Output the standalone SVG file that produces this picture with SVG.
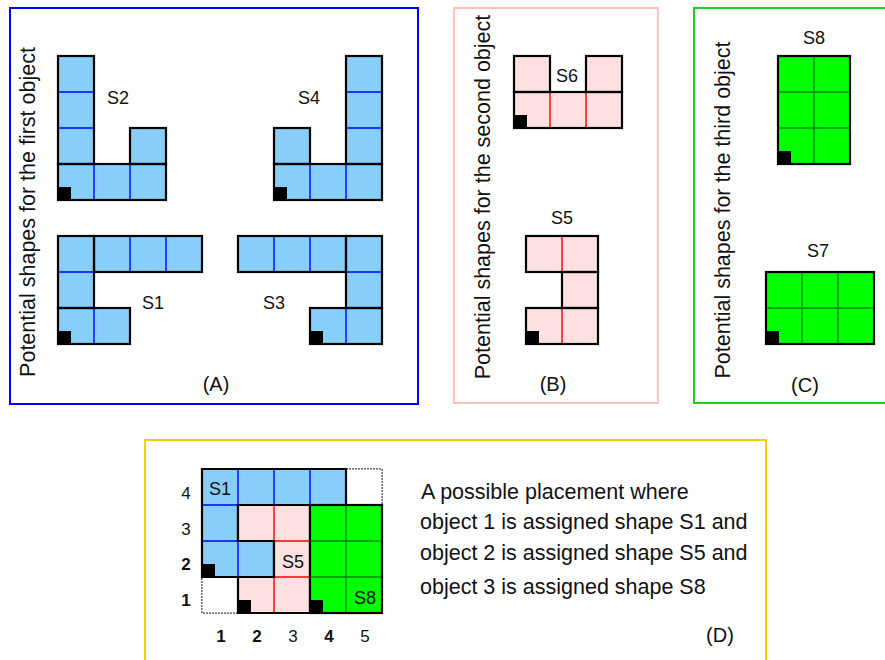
<svg xmlns="http://www.w3.org/2000/svg" width="885" height="660" viewBox="0 0 885 660">
<style>
text{font-family:"Liberation Sans",Arial,Helvetica,sans-serif;fill:#111}
.lbl{font-size:18px;text-anchor:middle}
.pl{font-size:20px;text-anchor:middle}
.vt{font-size:21.5px;text-anchor:middle}
.para{font-size:21.5px}
.ax{font-size:17px;text-anchor:middle}
.b{font-weight:bold}
.bl{fill:#87cefa}
.pk{fill:#ffe0e0}
.gr{fill:#00ff00}
.ol{fill:none;stroke:#000;stroke-width:2.2;stroke-linejoin:miter}
.ib{stroke:#0000ff;stroke-width:1.4}
.ir{stroke:#ff0000;stroke-width:1.4}
.ig{stroke:#008a00;stroke-width:1.4}
.mk{fill:#000}
.thin{fill:#fff;stroke:#444;stroke-width:1;stroke-dasharray:2 1}
</style>

<g id="panelA">
<rect x="10" y="8" width="408" height="396" fill="#fff" stroke="#0000ff" stroke-width="2"/>
<text class="vt" transform="translate(35,212) rotate(-90)">Potential shapes for the first object</text>
<text class="pl" x="216" y="391">(A)</text>
</g>
<g id="panelB">
<rect x="454" y="8" width="204" height="395" fill="#fff" stroke="#ffc0c0" stroke-width="2"/>
<text class="vt" transform="translate(490,197) rotate(-90)">Potential shapes for the second object</text>
<text class="pl" x="553" y="391">(B)</text>
</g>
<g id="panelC">
<rect x="694" y="8" width="200" height="395" fill="#fff" stroke="#22cc22" stroke-width="2"/>
<text class="vt" transform="translate(730,210) rotate(-90)">Potential shapes for the third object</text>
<text class="pl" x="805" y="392">(C)</text>
</g>
<g id="panelD">
<rect x="145" y="440" width="621" height="240" fill="#fff" stroke="#f5d000" stroke-width="2"/>
<text class="pl" x="720" y="642">(D)</text>
</g>

<g id="S2">
<rect class="bl" x="58" y="56" width="36" height="108"/>
<rect class="bl" x="58" y="164" width="108" height="36"/>
<rect class="bl" x="130" y="128" width="36" height="36"/>
<path class="ib" d="M58 92H94M58 128H94M94 164V200M130 164V200"/>
<rect class="ol" x="58" y="56" width="36" height="108"/>
<rect class="ol" x="58" y="164" width="108" height="36"/>
<rect class="ol" x="130" y="128" width="36" height="36"/>
<rect class="mk" x="58" y="187" width="13" height="13"/>
<text class="lbl" x="118" y="104">S2</text>
</g>

<g id="S4">
<rect class="bl" x="346" y="56" width="36" height="108"/>
<rect class="bl" x="274" y="164" width="108" height="36"/>
<rect class="bl" x="274" y="128" width="36" height="36"/>
<path class="ib" d="M346 92H382M346 128H382M310 164V200M346 164V200"/>
<rect class="ol" x="346" y="56" width="36" height="108"/>
<rect class="ol" x="274" y="164" width="108" height="36"/>
<rect class="ol" x="274" y="128" width="36" height="36"/>
<rect class="mk" x="274" y="187" width="13" height="13"/>
<text class="lbl" x="309" y="104">S4</text>
</g>

<g id="S1">
<rect class="bl" x="58" y="236" width="36" height="72"/>
<rect class="bl" x="94" y="236" width="108" height="36"/>
<rect class="bl" x="58" y="308" width="72" height="36"/>
<path class="ib" d="M58 272H94M130 236V272M166 236V272M94 308V344"/>
<rect class="ol" x="58" y="236" width="36" height="72"/>
<rect class="ol" x="94" y="236" width="108" height="36"/>
<rect class="ol" x="58" y="308" width="72" height="36"/>
<rect class="mk" x="58" y="331" width="13" height="13"/>
<text class="lbl" x="153" y="309">S1</text>
</g>

<g id="S3">
<rect class="bl" x="238" y="236" width="108" height="36"/>
<rect class="bl" x="346" y="236" width="36" height="72"/>
<rect class="bl" x="310" y="308" width="72" height="36"/>
<path class="ib" d="M274 236V272M310 236V272M346 272H382M346 308V344"/>
<rect class="ol" x="238" y="236" width="108" height="36"/>
<rect class="ol" x="346" y="236" width="36" height="72"/>
<rect class="ol" x="310" y="308" width="72" height="36"/>
<rect class="mk" x="310" y="331" width="13" height="13"/>
<text class="lbl" x="274" y="309">S3</text>
</g>

<g id="S6">
<rect class="pk" x="514" y="56" width="36" height="36"/>
<rect class="pk" x="586" y="56" width="36" height="36"/>
<rect class="pk" x="514" y="92" width="108" height="36"/>
<path class="ir" d="M550 92V128M586 92V128"/>
<rect class="ol" x="514" y="56" width="36" height="36"/>
<rect class="ol" x="586" y="56" width="36" height="36"/>
<rect class="ol" x="514" y="92" width="108" height="36"/>
<rect class="mk" x="514" y="115" width="13" height="13"/>
<text class="lbl" x="567" y="82">S6</text>
</g>

<g id="S5">
<rect class="pk" x="526" y="236" width="72" height="36"/>
<rect class="pk" x="562" y="272" width="36" height="36"/>
<rect class="pk" x="526" y="308" width="72" height="36"/>
<path class="ir" d="M562 236V272M562 308V344"/>
<rect class="ol" x="526" y="236" width="72" height="36"/>
<rect class="ol" x="562" y="272" width="36" height="36"/>
<rect class="ol" x="526" y="308" width="72" height="36"/>
<rect class="mk" x="526" y="331" width="13" height="13"/>
<text class="lbl" x="562" y="224">S5</text>
</g>

<g id="S8">
<rect class="gr" x="778" y="56" width="72" height="108"/>
<path class="ig" d="M814 56V164M778 92H850M778 128H850"/>
<rect class="ol" x="778" y="56" width="72" height="108"/>
<rect class="mk" x="778" y="151" width="13" height="13"/>
<text class="lbl" x="814" y="44">S8</text>
</g>

<g id="S7">
<rect class="gr" x="766" y="272" width="108" height="72"/>
<path class="ig" d="M802 272V344M838 272V344M766 308H874"/>
<rect class="ol" x="766" y="272" width="108" height="72"/>
<rect class="mk" x="766" y="331" width="13" height="13"/>
<text class="lbl" x="818" y="257">S7</text>
</g>

<g id="grid">
<rect class="thin" x="202" y="469" width="180" height="144"/>
<rect class="thin" x="346" y="469" width="36" height="36"/>
<rect class="thin" x="202" y="577" width="36" height="36"/>
</g>
<g id="D-S1">
<path class="bl" d="M202 469H346V505H238V541H274V577H202Z"/>
<path class="ib" d="M238 469V505M274 469V505M310 469V505M202 505H238M202 541H238M238 541V577"/>
<path class="ol" d="M202 469H346V505H238V541H274V577H202Z"/>
<rect class="mk" x="202" y="564" width="13" height="13"/>
<text class="lbl" x="220" y="495">S1</text>
</g>
<g id="D-S5">
<path class="pk" d="M238 505H310V613H238V577H274V541H238Z"/>
<path class="ir" d="M274 505V541M274 541H310M274 577H310M274 577V613"/>
<path class="ol" d="M238 505H310V613H238V577H274V541H238Z"/>
<rect class="mk" x="238" y="600" width="13" height="13"/>
<text class="lbl" x="293" y="568">S5</text>
</g>
<g id="D-S8">
<rect class="gr" x="310" y="505" width="72" height="108"/>
<path class="ig" d="M346 505V613M310 541H382M310 577H382"/>
<rect class="ol" x="310" y="505" width="72" height="108"/>
<rect class="mk" x="310" y="600" width="13" height="13"/>
<text class="lbl" x="365" y="604">S8</text>
</g>
<g id="axes">
<text class="ax" x="186" y="499">4</text>
<text class="ax" x="186" y="535">3</text>
<text class="ax b" x="186" y="570">2</text>
<text class="ax b" x="186" y="606">1</text>
<text class="ax b" x="221" y="642">1</text>
<text class="ax b" x="257" y="642">2</text>
<text class="ax" x="293" y="642">3</text>
<text class="ax b" x="329" y="642">4</text>
<text class="ax" x="365" y="642">5</text>
</g>
<g id="caption">
<text class="para" x="421" y="499">A possible placement where</text>
<text class="para" x="420" y="529">object 1 is assigned shape S1 and</text>
<text class="para" x="420" y="560">object 2 is assigned shape S5 and</text>
<text class="para" x="420" y="594">object 3 is assigned shape S8</text>
</g>
<g id="connectors"></g>
</svg>
